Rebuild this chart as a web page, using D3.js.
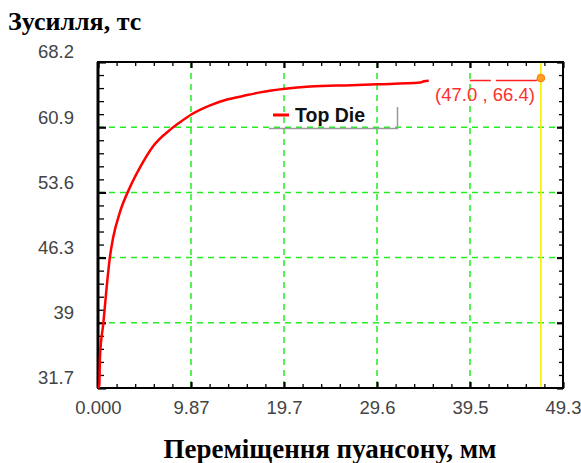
<!DOCTYPE html>
<html>
<head>
<meta charset="utf-8">
<script src="https://cdn.jsdelivr.net/npm/d3@7"></script>
<style>
  body { margin: 0; background: #fff; }
</style>
</head>
<body>
<script>
// displacement of the punch, mm
var displacement = [0, 0.14, 0.21, 0.57, 0.92, 1.27, 1.62, 2.33, 3.4, 4.46, 5.87, 7.64, 8.7, 9.94,
  11.9, 13.7, 15.4, 17.2, 19.85, 22.5, 26.9, 29.6, 34.2, 34.6, 35.1];
// force, tf
var force = [31.7, 32.0, 35.2, 39.0, 43.0, 46.4, 48.6, 51.4, 54.2, 56.4, 58.8, 60.6, 61.45, 62.35,
  63.35, 64.0, 64.4, 64.8, 65.2, 65.45, 65.6, 65.7, 65.9, 66.05, 66.1];

var xTicks = [0, 9.87, 19.74, 29.61, 39.48, 49.35];
var xTickLabels = ["0.000", "9.87", "19.7", "29.6", "39.5", "49.3"];
var yTicks = [31.7, 39, 46.3, 53.6, 60.9, 68.2];
var yTickLabels = ["31.7", "39", "46.3", "53.6", "60.9", "68.2"];

var seriesName = "Top Die";
var cursor = [47.0, 66.4];

var width = 581, height = 463;
var pLeft = 98, pRight = 563, pTop = 62, pBottom = 388;

var svg = d3.select("body").append("svg")
	.attr("width", width)
	.attr("height", height)
;

var x = d3.scaleLinear().domain([0, 49.35]).range([pLeft, pRight]);
var y = d3.scaleLinear().domain([31.7, 68.2]).range([pBottom, pTop]);

// minor ticks, 5 per major interval
function minors(ticks) {
	var out = [];
	for (var i = 0; i < ticks.length - 1; i++) {
		var step = (ticks[i + 1] - ticks[i]) / 5;
		for (var k = 1; k < 5; k++) out.push(ticks[i] + k * step);
	}
	return out;
}
var xMinor = minors(xTicks), yMinor = minors(yTicks);

// grid
svg.append("g").selectAll("line")
	.data(xTicks.slice(1, -1))
	.enter().append("line")
		.attr("x1", function(d) { return x(d); })
		.attr("x2", function(d) { return x(d); })
		.attr("y1", pTop)
		.attr("y2", pBottom)
		.style("stroke", "#22ee22")
		.style("stroke-width", 1.5)
		.style("stroke-dasharray", "6,5")
;
svg.append("g").selectAll("line")
	.data(yTicks.slice(1, -1))
	.enter().append("line")
		.attr("x1", pLeft)
		.attr("x2", pRight)
		.attr("y1", function(d) { return y(d); })
		.attr("y2", function(d) { return y(d); })
		.style("stroke", "#22ee22")
		.style("stroke-width", 1.5)
		.style("stroke-dasharray", "6,5")
;

// axes
function styleAxis(g, w) {
	g.select(".domain").remove();
	g.selectAll(".tick line").style("stroke", "#000").style("stroke-width", w);
	g.selectAll("text")
		.style("font-family", "'Liberation Sans', Arial, sans-serif")
		.style("font-size", "18.5px")
		.style("fill", "#444");
}

svg.append("g").attr("transform", "translate(0," + pBottom + ")")
	.call(d3.axisBottom(x).tickValues(xMinor).tickSize(-4).tickFormat(""))
	.call(styleAxis, 1.3);
svg.append("g").attr("transform", "translate(0," + pBottom + ")")
	.call(d3.axisBottom(x).tickValues(xTicks).tickSize(-6).tickPadding(13)
		.tickFormat(function(d, i) { return xTickLabels[i]; }))
	.call(styleAxis, 2.2);

svg.append("g").attr("transform", "translate(0," + pTop + ")")
	.call(d3.axisTop(x).tickValues(xMinor).tickSize(-4).tickFormat(""))
	.call(styleAxis, 1.3);
svg.append("g").attr("transform", "translate(0," + pTop + ")")
	.call(d3.axisTop(x).tickValues(xTicks).tickSize(-6).tickFormat(""))
	.call(styleAxis, 2.2);

svg.append("g").attr("transform", "translate(" + pLeft + ",0)")
	.call(d3.axisLeft(y).tickValues(yMinor).tickSize(-6).tickFormat(""))
	.call(styleAxis, 1.3);
var yAxis = svg.append("g").attr("transform", "translate(" + pLeft + ",0)")
	.call(d3.axisLeft(y).tickValues(yTicks).tickSize(-8).tickPadding(24)
		.tickFormat(function(d, i) { return yTickLabels[i]; }))
	.call(styleAxis, 2.2);
yAxis.selectAll("text").attr("dy", "-0.22em");

svg.append("g").attr("transform", "translate(" + pRight + ",0)")
	.call(d3.axisRight(y).tickValues(yMinor).tickSize(-4).tickFormat(""))
	.call(styleAxis, 1.3);
svg.append("g").attr("transform", "translate(" + pRight + ",0)")
	.call(d3.axisRight(y).tickValues(yTicks).tickSize(-6).tickFormat(""))
	.call(styleAxis, 2.2);

// frame
svg.append("rect")
	.attr("x", pLeft)
	.attr("y", pTop)
	.attr("width", pRight - pLeft)
	.attr("height", pBottom - pTop)
	.style("fill", "none")
	.style("stroke", "#000")
	.style("stroke-width", 2)
;
svg.append("line")
	.attr("x1", pLeft).attr("x2", pLeft)
	.attr("y1", pTop).attr("y2", pBottom)
	.style("stroke", "#000")
	.style("stroke-width", 3)
;

// legend (transparent box with bevel shadow)
svg.append("path")
	.attr("d", "M269,128.5H397.5V107")
	.style("fill", "none")
	.style("stroke", "#9a9a9a")
	.style("stroke-width", 1.5)
;
svg.append("line")
	.attr("x1", 273).attr("x2", 289)
	.attr("y1", 115).attr("y2", 115)
	.style("stroke", "#ff0000")
	.style("stroke-width", 3)
;
svg.append("text")
	.attr("x", 295)
	.attr("y", 122)
	.attr("font-family", "'Liberation Sans', Arial, sans-serif")
	.attr("font-weight", "bold")
	.attr("font-size", "19.5px")
	.attr("fill", "#111")
	.text(seriesName)
;

// curve
var line = d3.line()
	.curve(d3.curveMonotoneX)
	.x(function(d) { return x(d[0]); })
	.y(function(d) { return y(d[1]); });

svg.append("path")
	.datum(d3.zip(displacement, force))
	.attr("d", line)
	.style("fill", "none")
	.style("stroke", "#ff0000")
	.style("stroke-width", 2.5)
	.style("stroke-linejoin", "round")
;

// cursor
var cx = x(cursor[0]), cy = y(cursor[1]);
svg.append("line")
	.attr("x1", cx).attr("x2", cx)
	.attr("y1", pTop + 1).attr("y2", pBottom - 1)
	.style("stroke", "#f5f000")
	.style("stroke-width", 1.6)
;
svg.append("path")
	.attr("d", "M" + (cx - 71) + "," + (cy + 2.5) + "H" + (cx - 50) +
		"M" + (cx - 45) + "," + (cy + 2.5) + "H" + (cx - 5) + "L" + cx + "," + cy)
	.style("fill", "none")
	.style("stroke", "#ff2020")
	.style("stroke-width", 1.5)
;
svg.append("circle")
	.attr("cx", cx)
	.attr("cy", cy)
	.attr("r", 3.8)
	.style("fill", "#ffa020")
	.style("stroke", "#ff7a00")
	.style("stroke-width", 1)
;
svg.append("text")
	.attr("x", cx - 6)
	.attr("y", cy + 23)
	.attr("text-anchor", "end")
	.attr("font-family", "'Liberation Sans', Arial, sans-serif")
	.attr("font-size", "18.5px")
	.attr("fill", "#ff3030")
	.text("(" + cursor[0].toFixed(1) + " , " + cursor[1].toFixed(1) + ")")
;

// axis titles
svg.append("text")
	.attr("x", 8)
	.attr("y", 30)
	.attr("font-family", "'Liberation Serif', 'Times New Roman', serif")
	.attr("font-weight", "bold")
	.attr("font-size", "26px")
	.attr("fill", "#000")
	.text("Зусилля, тс")
;
svg.append("text")
	.attr("x", 330)
	.attr("y", 458)
	.attr("text-anchor", "middle")
	.attr("font-family", "'Liberation Serif', 'Times New Roman', serif")
	.attr("font-weight", "bold")
	.attr("font-size", "27px")
	.attr("fill", "#000")
	.text("Переміщення пуансону, мм")
;
</script>
</body>
</html>
